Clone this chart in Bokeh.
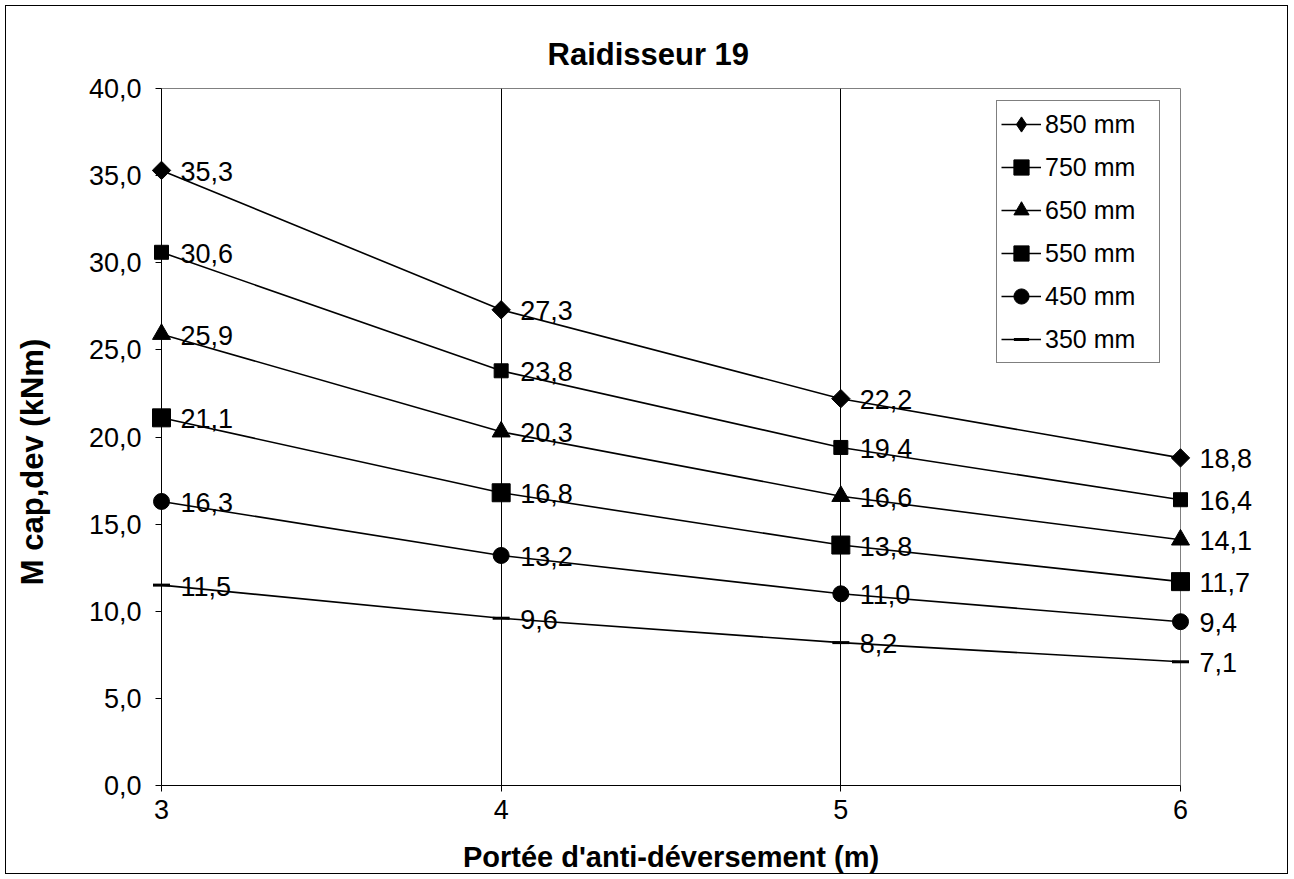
import numpy as np
from bokeh.plotting import figure
from bokeh.models import (ColumnDataSource, FixedTicker, CustomJSTickFormatter,
                          Legend, LegendItem, Range1d)
from bokeh.core.properties import value
from bokeh.embed import file_html
from bokeh.resources import INLINE

# Span of lateral-torsional restraint (m)
portee = [3, 4, 5, 6]

# Moment capacity (kNm) per stiffener height
m_850 = [35.3, 27.3, 22.2, 18.8]
m_750 = [30.6, 23.8, 19.4, 16.4]
m_650 = [25.9, 20.3, 16.6, 14.1]
m_550 = [21.1, 16.8, 13.8, 11.7]
m_450 = [16.3, 13.2, 11.0, 9.4]
m_350 = [11.5, 9.6, 8.2, 7.1]

series_names = ["850 mm", "750 mm", "650 mm", "550 mm", "450 mm", "350 mm"]
series_values = [m_850, m_750, m_650, m_550, m_450, m_350]
y_ticks = [0, 5, 10, 15, 20, 25, 30, 35, 40]

# plot marker, size, angle, legend marker
markers = [
    ("square", 13, np.pi / 4, "diamond"),
    ("square", 14, 0.0, "square"),
    ("triangle", 18, 0.0, "triangle"),
    ("square", 18, 0.0, "square"),
    ("circle", 16, 0.0, "circle"),
    ("dash", 17, 0.0, "dash"),
]

FONT = "Liberation Sans"

X0, X1, Y0, Y1 = 3, 6, 0, 40
FRAME_W, FRAME_H = 1019, 698   # frame size in pixels (1283 - 155 - 109, 869 - 82 - 89)

p = figure(width=1283, height=869, output_backend="svg", toolbar_location=None,
           x_range=Range1d(X0, X1), y_range=Range1d(Y0, Y1),
           min_border_left=155, min_border_right=109,
           min_border_top=82, min_border_bottom=89,
           title="Raidisseur 19")
p.margin = (5, 0, 0, 5)
p.styles = {"border": "1px solid black"}
p.background_fill_color = "white"
p.border_fill_color = "white"
p.outline_line_color = "#808080"
p.outline_line_width = 1

p.title.align = "left"
p.title.offset = 386
p.title.text_font = FONT
p.title.text_font_size = "31px"
p.title.text_font_style = "bold"
p.title.text_color = "black"
p.title.standoff = 34

# axes
p.xaxis.ticker = FixedTicker(ticks=portee)
p.yaxis.ticker = FixedTicker(ticks=y_ticks)
p.yaxis.formatter = CustomJSTickFormatter(code="return tick.toFixed(1).replace('.', ',');")
for ax in (p.xaxis[0], p.yaxis[0]):
    ax.axis_line_color = "black"
    ax.axis_line_width = 1
    ax.major_tick_line_color = "black"
    ax.major_tick_out = 6
    ax.major_tick_in = 0
    ax.minor_tick_line_color = None
    ax.major_label_text_font = FONT
    ax.major_label_text_font_size = "27px"
    ax.major_label_text_color = "black"
    ax.axis_label_text_font = FONT
    ax.axis_label_text_font_size = "29px"
    ax.axis_label_text_font_style = "bold"
    ax.axis_label_text_color = "black"

p.xaxis.axis_label = "Portée d'anti-déversement (m)"
p.yaxis.major_label_standoff = 14
p.xaxis.major_label_standoff = 8
p.xaxis.axis_label_standoff = 19

# vertical axis title: 129 px left of the frame, 324 px above its bottom
ytitle_x = X0 - 129 * (X1 - X0) / FRAME_W
ytitle_y = Y0 + 324 * (Y1 - Y0) / FRAME_H
p.text(x=[ytitle_x], y=[ytitle_y], text=["M cap,dev (kNm)"], angle=np.pi / 2,
       text_font=value(FONT), text_font_size="31px", text_font_style="bold",
       text_color="black", text_align="center", text_baseline="middle",
       level="overlay")

p.xgrid.grid_line_color = "black"
p.xgrid.grid_line_width = 1
p.ygrid.grid_line_color = None

legend_items = []
for name, vals, (mk, sz, ang, lmk) in zip(series_names, series_values, markers):
    src = ColumnDataSource(dict(
        x=portee, y=vals,
        lbl=[f"{v:.1f}".replace(".", ",") for v in vals],
    ))
    r_line = p.line("x", "y", source=src, line_color="black", line_width=1.6)
    lw = 3 if mk == "dash" else 1
    if lmk != mk or ang != 0.0:
        # key marker for the legend, tucked under the plotted marker
        r_key = p.scatter("x", "y", source=src, marker=lmk, size=10,
                          fill_color="black", line_color="black", line_width=lw)
    r_mk = p.scatter("x", "y", source=src, marker=mk, size=sz, angle=ang,
                     fill_color="black", line_color="black", line_width=lw,
                     level="overlay")
    if lmk == mk and ang == 0.0:
        r_key = r_mk
    p.text("x", "y", text="lbl", source=src, x_offset=19, y_offset=1,
           text_font=value(FONT), text_font_size="27px",
           text_baseline="middle", text_align="left", text_color="black",
           level="overlay")
    legend_items.append(LegendItem(label=name, renderers=[r_line, r_key]))

legend = Legend(items=legend_items, location=(835, 422))
legend.border_line_color = "black"
legend.border_line_width = 1
legend.background_fill_color = "white"
legend.background_fill_alpha = 1
legend.label_text_font = FONT
legend.label_text_font_size = "25px"
legend.label_text_color = "black"
legend.glyph_width = 40
legend.glyph_height = 38
legend.label_height = 38
legend.label_width = 110
legend.label_standoff = 4
legend.spacing = 5
legend.padding = 4
legend.margin = 0
p.add_layout(legend, "center")

open("out.html", "w").write(file_html(p, INLINE))
